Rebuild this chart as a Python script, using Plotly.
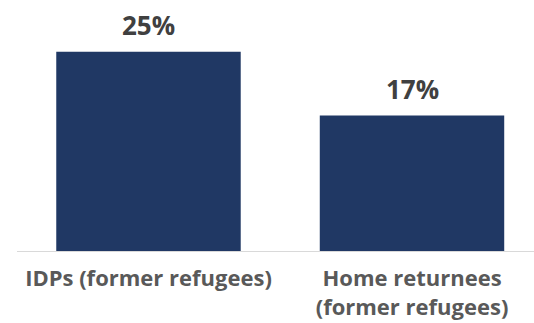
import plotly.graph_objects as go

categories = ["IDPs (former refugees)", "Home returnees<br>(former refugees)"]
values = [25, 17]
labels = ["25%", "17%"]

fig = go.Figure(go.Bar(
    x=[0, 1], y=values,
    marker=dict(color="#203864", line=dict(width=0)),
    hoverinfo="skip",
))
for i, (v, t) in enumerate(zip(values, labels)):
    fig.add_annotation(x=i, y=v, text=t, showarrow=False, yanchor="bottom", yshift=7,
                       font=dict(family="Open Sans", size=26, color="#404040", weight="bold"))
fig.update_layout(
    width=534, height=323,
    margin=dict(l=17, r=0, t=18, b=72),
    paper_bgcolor="white", plot_bgcolor="white",
    bargap=0.3, showlegend=False,
    xaxis=dict(range=[-0.499, 1.463], tickmode="array", tickvals=[0, 1], ticktext=categories,
               showgrid=False, zeroline=False, showline=True, linecolor="#d9d9d9", linewidth=1,
               ticks="", ticklabelstandoff=8,
               tickfont=dict(family="Open Sans", size=22, color="#595959", weight="bold")),
    yaxis=dict(range=[0, 29.25], visible=False, showgrid=False),
)
fig.write_html("out.html", config={"displayModeBar": False},
               post_script="document.body.style.margin='0';document.body.style.overflow='hidden';")
